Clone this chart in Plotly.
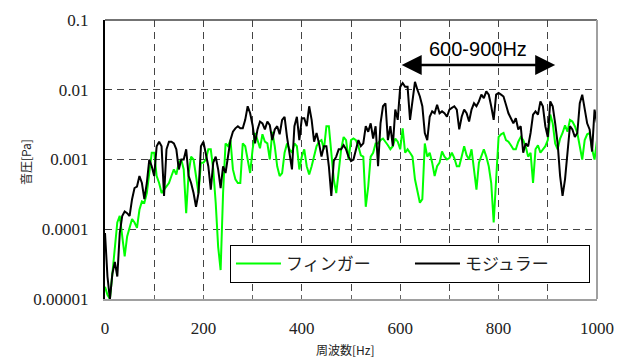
import math
import plotly.graph_objects as go

freq_hz = list(range(0, 1001, 5))

finger_pa = [
    1.5e-5, 1.15e-5, 1.0e-5, 2.3e-5, 5.6e-5, 1.25e-4, 1.55e-4, 7.9e-5, 4.1e-5, 7.9e-5,
    1.05e-4, 1.4e-4, 1.25e-4, 1.05e-4, 1.9e-4, 2.5e-4, 2.4e-4, 3.3e-4, 6.4e-4, 1.25e-3,
    1.25e-3, 5.8e-4, 4.6e-4, 3.3e-4, 3.7e-4, 4.1e-4, 4.6e-4, 5.8e-4, 7.2e-4, 6.1e-4,
    9.0e-4, 1.0e-3, 7.2e-4, 1.7e-4, 6.4e-4, 1.1e-3, 1.0e-3, 5.8e-4, 3.3e-4, 9.0e-4,
    9.0e-4, 1.0e-3, 1.4e-3, 1.4e-3, 7.2e-4, 2.4e-4, 5.6e-5, 2.6e-5, 3.3e-4, 1.7e-3,
    1.55e-3, 1.9e-3, 7.2e-4, 5.2e-4, 4.6e-4, 4.6e-4, 1.7e-3, 1.55e-3, 1.0e-3, 6.4e-4,
    1.4e-3, 2.4e-3, 1.9e-3, 1.45e-3, 2.3e-3, 1.8e-3, 1.7e-3, 1.0e-3, 2.5e-3, 1.55e-3,
    8.0e-4, 5.8e-4, 6.4e-4, 1.25e-3, 1.7e-3, 1.4e-3, 1.25e-3, 1.7e-3, 1.55e-3, 7.2e-4,
    1.1e-3, 1.4e-3, 8.0e-4, 6.1e-4, 8.0e-4, 1.1e-3, 1.55e-3, 1.8e-3, 1.9e-3, 1.4e-3,
    3.0e-3, 3.0e-3, 1.1e-3, 5.2e-4, 3.3e-4, 7.2e-4, 1.4e-3, 2.1e-3, 1.9e-3, 1.0e-3,
    1.9e-3, 2.0e-3, 1.9e-3, 1.55e-3, 1.15e-3, 1.1e-3, 2.1e-4, 4.1e-4, 1.1e-3, 1.25e-3,
    1.7e-3, 1.7e-3, 1.9e-3, 2.0e-3, 1.8e-3, 1.6e-3, 1.4e-3, 1.55e-3, 2.0e-3, 1.8e-3,
    1.4e-3, 2.8e-3, 1.25e-3, 1.4e-3, 1.25e-3, 1.1e-3, 5.2e-4, 3.3e-4, 2.4e-4, 2.7e-4,
    1.7e-3, 1.1e-3, 1.25e-3, 9.0e-4, 5.8e-4, 8.0e-4, 9.0e-4, 1.3e-3, 1.1e-3, 1.0e-3,
    1.05e-3, 1.25e-3, 1.05e-3, 8.0e-4, 8.0e-4, 1.1e-3, 1.55e-3, 1.15e-3, 1.0e-3, 1.4e-3,
    7.2e-4, 3.7e-4, 9.0e-4, 1.15e-3, 1.4e-3, 1.1e-3, 8.0e-4, 4.6e-4, 1.25e-4, 5.2e-4,
    2.1e-3, 2.3e-3, 2.4e-3, 1.9e-3, 1.8e-3, 1.6e-3, 1.4e-3, 1.4e-3, 1.8e-3, 2.1e-3,
    1.9e-3, 1.55e-3, 1.1e-3, 1.25e-3, 4.6e-4, 1.4e-3, 1.6e-3, 1.25e-3, 1.4e-3, 1.55e-3,
    1.9e-3, 4.4e-3, 3.3e-3, 1.7e-3, 1.4e-3, 2.0e-3, 2.4e-3, 3.1e-3, 2.5e-3, 3.7e-3,
    3.5e-3, 3.0e-3, 2.4e-3, 1.55e-3, 1.0e-3, 1.9e-3, 2.3e-3, 2.4e-3, 1.4e-3, 1.0e-3,
    1.9e-3,
]

modular_pa = [
    8.8e-5, 2.1e-5, 1.0e-5, 2.3e-5, 3.4e-5, 2.1e-5, 8.8e-5, 1.55e-4, 1.8e-4, 1.7e-4,
    1.55e-4, 2.7e-4, 3.9e-4, 4.1e-4, 5.8e-4, 4.6e-4, 2.7e-4, 4.6e-4, 1.0e-3, 8.0e-4,
    5.8e-4, 1.55e-3, 1.8e-3, 1.55e-3, 3.0e-4, 1.4e-3, 1.8e-3, 1.8e-3, 1.7e-3, 1.4e-3,
    7.2e-4, 1.0e-3, 1.0e-3, 1.4e-3, 5.8e-4, 4.6e-4, 3.3e-4, 2.1e-4, 3.3e-4, 1.55e-3,
    1.8e-3, 1.25e-3, 8.0e-4, 3.7e-4, 9.0e-4, 1.1e-3, 7.2e-4, 3.9e-4, 8.0e-4, 6.4e-4,
    1.1e-3, 1.9e-3, 2.5e-3, 2.8e-3, 3.0e-3, 2.8e-3, 2.8e-3, 3.7e-3, 5.8e-3, 4.6e-3,
    3.1e-3, 1.7e-3, 2.7e-3, 3.5e-3, 3.3e-3, 2.7e-3, 3.5e-3, 3.1e-3, 1.9e-3, 2.7e-3,
    3.0e-3, 2.3e-3, 3.7e-3, 4.1e-3, 2.1e-3, 1.25e-3, 7.2e-4, 3.0e-3, 4.1e-3, 1.9e-3,
    3.9e-3, 3.9e-3, 3.0e-3, 5.8e-3, 3.7e-3, 1.8e-3, 2.4e-3, 1.7e-3, 1.1e-3, 1.55e-3,
    1.55e-3, 8.0e-4, 3.0e-4, 9.5e-4, 1.1e-3, 1.4e-3, 1.4e-3, 1.6e-3, 1.4e-3, 1.1e-3,
    9.5e-4, 1.0e-3, 1.4e-3, 1.9e-3, 1.55e-3, 1.7e-3, 3.0e-3, 2.5e-3, 3.3e-3, 2.0e-3,
    3.0e-3, 8.0e-4, 3.3e-3, 5.8e-3, 6.4e-3, 1.9e-3, 3.0e-3, 1.55e-3, 5.2e-3, 3.7e-3,
    1.1e-2, 1.25e-2, 1.1e-2, 1.1e-2, 3.7e-3, 7.2e-3, 1.3e-2, 1.0e-2, 8.0e-3, 5.8e-3,
    2.4e-3, 1.9e-3, 4.1e-3, 4.9e-3, 4.6e-3, 6.1e-3, 4.6e-3, 4.9e-3, 4.6e-3, 4.1e-3,
    5.2e-3, 5.5e-3, 5.8e-3, 5.2e-3, 2.7e-3, 4.1e-3, 5.2e-3, 4.6e-3, 3.5e-3, 5.2e-3,
    6.4e-3, 5.8e-3, 6.8e-3, 8.5e-3, 7.6e-3, 9.5e-3, 8.5e-3, 5.8e-3, 3.7e-3, 8.5e-3,
    9.0e-3, 8.5e-3, 8.0e-3, 6.1e-3, 4.6e-3, 3.9e-3, 3.3e-3, 3.9e-3, 2.7e-3, 3.0e-3,
    1.25e-3, 1.7e-3, 1.55e-3, 2.4e-3, 4.4e-3, 4.9e-3, 4.4e-3, 6.8e-3, 5.8e-3, 3.0e-3,
    2.1e-3, 6.8e-3, 5.8e-3, 3.3e-3, 1.7e-3, 5.8e-4, 3.0e-4, 5.2e-4, 1.25e-3, 3.0e-3,
    2.7e-3, 2.1e-3, 2.4e-3, 6.4e-3, 8.5e-3, 5.5e-3, 3.3e-3, 2.7e-3, 1.3e-3, 5.2e-3,
    3.3e-3,
]

series_names = ["フィンガー", "モジュラー"]
series_colors = ["#00ff00", "#000000"]

x_tick_vals = [0, 100, 200, 300, 400, 500, 600, 700, 800, 900, 1000]
x_tick_text = ["0", "", "200", "", "400", "", "600", "", "800", "", "1000"]
y_tick_vals = [1e-5, 1e-4, 1e-3, 1e-2, 1e-1]
y_tick_text = ["0.00001", "0.0001", "0.001", "0.01", "0.1"]

band_start, band_end = 600, 915
band_level = 0.0226
band_label = "600-900Hz"

fig = go.Figure()
for name, ys, col in zip(series_names, [finger_pa, modular_pa], series_colors):
    fig.add_trace(go.Scatter(x=freq_hz, y=ys, mode="lines", name=name,
                             line=dict(color=col, width=2)))

tick_font = dict(family="'Liberation Serif', 'Times New Roman', serif", size=17, color="#222")
fig.update_layout(
    width=626, height=360,
    margin=dict(l=105, r=29, t=20, b=61),
    paper_bgcolor="white", plot_bgcolor="white",
    showlegend=True,
    legend=dict(orientation="h", x=0.254, y=0.1935, xanchor="left", yanchor="top",
                bgcolor="white", bordercolor="black", borderwidth=1,
                font=dict(family="Noto Sans CJK JP", size=17, color="#222"),
                entrywidth=119, itemwidth=45),
    xaxis=dict(range=[0, 1000], tickvals=x_tick_vals, ticktext=x_tick_text,
               ticks="inside", ticklen=4, tickcolor="#666", tickfont=tick_font,
               ticklabelstandoff=13,
               showgrid=True, gridcolor="#444", griddash="7px,5px", gridwidth=1,
               showline=True, linecolor="#a0a0a0", linewidth=2, zeroline=False),
    yaxis=dict(type="log", range=[-5, -1], tickvals=y_tick_vals, ticktext=y_tick_text,
               ticks="inside", ticklen=5, tickcolor="#333", tickfont=tick_font,
               ticklabelstandoff=11,
               showgrid=True, gridcolor="#444", griddash="7px,5px", gridwidth=1,
               showline=True, linecolor="black", linewidth=2, zeroline=False),
)

# plot frame: top and right edges
fig.add_shape(type="line", xref="x domain", yref="y domain", x0=0, x1=1, y0=1, y1=1,
              line=dict(color="#444", width=1.5))
fig.add_shape(type="line", xref="x domain", yref="y domain", x0=1, x1=1, y0=0, y1=1,
              line=dict(color="#a0a0a0", width=2))

# double-headed arrow for the band (log axis: annotation y given as log10)
band_y = math.log10(band_level)
fig.add_annotation(x=band_end, y=band_y, ax=band_start, ay=band_y,
                   xref="x", yref="y", axref="x", ayref="y", text="",
                   showarrow=True, arrowhead=2, arrowside="end+start",
                   arrowsize=1.6, arrowwidth=2.5, arrowcolor="black",
                   standoff=0, startstandoff=0)
fig.add_annotation(x=(band_start + band_end) / 2, y=band_y, xref="x", yref="y",
                   text=band_label, showarrow=False, yanchor="bottom", yshift=3,
                   font=dict(family="Liberation Sans", size=20, color="black"))

# axis titles
fig.add_annotation(x=0.488, y=-0.181, xref="paper", yref="paper", text="周波数[Hz]",
                   xanchor="center", yanchor="middle", showarrow=False,
                   font=dict(family="Noto Sans CJK JP", size=12, color="#222"))
fig.add_annotation(x=-0.1626, y=0.491, xref="paper", yref="paper", text="音圧[Pa]",
                   xanchor="center", yanchor="middle", textangle=-90, showarrow=False,
                   font=dict(family="Noto Sans CJK JP", size=12, color="#222"))

fig.write_html("out.html")
